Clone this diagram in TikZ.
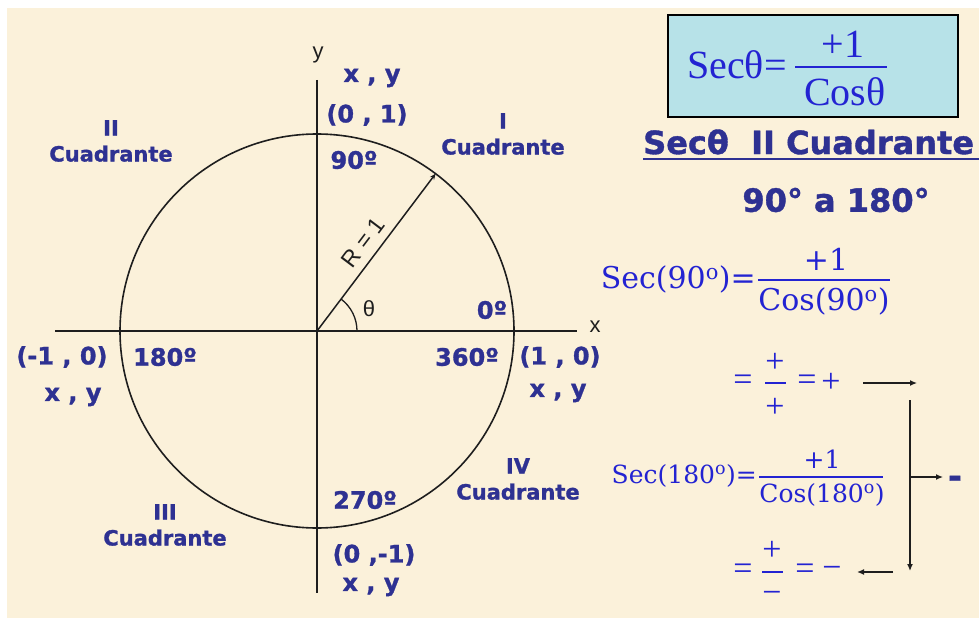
\documentclass[tikz,border=0pt]{standalone}
\usepackage{fontspec}
\setmainfont{Liberation Serif}
\newfontfamily\dvsans{DejaVu Sans}
\newfontfamily\heavy{DejaVu Sans Bold}[FakeBold=1.2]
\newfontfamily\dvserif{DejaVu Serif}
\newfontfamily\lserif{Liberation Serif}
\newfontfamily\lsans{Liberation Sans}
\usetikzlibrary{arrows.meta}
\definecolor{navy}{RGB}{46,49,146}
\definecolor{fblue}{RGB}{35,35,210}
\definecolor{cream}{RGB}{251,241,218}
\definecolor{boxcyan}{RGB}{183,226,232}
\definecolor{ink}{RGB}{30,30,30}
\tikzset{
  lbl/.style={text=navy, font=\heavy\fontsize{24}{26}\selectfont, inner sep=0pt},
  quad/.style={text=navy, font=\heavy\fontsize{21}{26}\selectfont, inner sep=0pt, align=center},
  big/.style={text=navy, font=\heavy\fontsize{32}{36}\selectfont, inner sep=0pt},
  axislbl/.style={text=ink, font=\lsans\fontsize{22}{24}\selectfont, inner sep=0pt},
  geo/.style={draw=ink, line width=1.6pt},
  boxeq/.style={text=fblue, font=\lserif\fontsize{40}{44}\selectfont, inner sep=0pt},
  eqa/.style={text=fblue, font=\dvserif\fontsize{30}{36}\selectfont, inner sep=0pt},
  eqb/.style={text=fblue, font=\dvserif\fontsize{25}{30}\selectfont, inner sep=0pt},
  sym/.style={text=fblue, font=\lserif\fontsize{34}{36}\selectfont, inner sep=0pt},
  fbar/.style={draw=fblue, line width=1.6pt},
  arr/.style={draw=ink, line width=1.3pt, -{Latex[length=7pt,width=6pt]}},
}
\begin{document}
\begin{tikzpicture}[x=1pt,y=1pt]
\useasboundingbox (0,0) rectangle (979,622);
\fill[white] (0,0) rectangle (979,622);
\fill[cream] (7,4) rectangle (979,614);

% ---- unit circle ----
\coordinate (O) at (317,291);
\coordinate (xl) at (55,291);
\coordinate (xr) at (577,291);
\coordinate (yt) at (317,542);
\coordinate (yb) at (317,29);
\coordinate (P) at (435.6,448.3);
\draw[geo] (xl) -- (xr);
\draw[geo] (yt) -- (yb);
\draw[geo] (O) circle (197);
\draw[draw=ink, line width=1.5pt, -{Stealth[length=6pt,width=5pt]}] (O) -- (P)
  node[pos=0.5, sloped, above=8pt, inner sep=0pt, text=ink, font=\lsans\fontsize{23}{25}\selectfont] (R) {R = 1};
\draw[draw=ink, line width=1.3pt] (357,291) arc (0:53:40);
\node[axislbl] (th) at (369,313) {θ};
\node[axislbl] (xlab) at (595,295) {x};
\node[axislbl] (ylab) at (318,567) {y};

% ---- labels ----
\node[lbl] (xyT) at (372,544) {x , y};
\node[lbl] (p01) at (367,507) {(0 , 1)};
\node[lbl] (d90) at (354,462) {90º};
\node[quad] (q2) at (111,481) {II\\Cuadrante};
\node[quad] (q1) at (503,488) {I\\Cuadrante};
\node[lbl] (d0) at (492,312) {0º};
\node[lbl] (pm10) at (62,265) {(-1 , 0)};
\node[lbl] (d180) at (165,265) {180º};
\node[lbl] (xyL) at (73,225) {x , y};
\node[lbl] (d360) at (467,265) {360º};
\node[lbl] (p10) at (560,265) {(1 , 0)};
\node[lbl] (xyR) at (558,229) {x , y};
\node[quad] (q4) at (518,143) {IV\\Cuadrante};
\node[lbl] (d270) at (365,122) {270º};
\node[quad] (q3) at (165,97) {III\\Cuadrante};
\node[lbl] (p0m1) at (374,67) {(0 ,-1)};
\node[lbl] (xyB) at (371,35) {x , y};

% ---- right side: definition box ----
\node[draw=black, line width=1.5pt, fill=boxcyan, minimum width=290pt, minimum height=102pt, inner sep=0pt] (box) at (813,556) {};
\node[boxeq, anchor=west] (secL) at (687,557) {Secθ=};
\coordinate (b0a) at (795,555);
\coordinate (b0b) at (887,555);
\draw[fbar] (b0a) -- (b0b);
\node[boxeq] (secN) at (843,578) {+1};
\node[boxeq] (secD) at (845,530) {Cosθ};

\node[big, anchor=west] (hd) at (643,480) {Secθ\ \ II Cuadrante};
\draw[navy, line width=1.6pt] ([yshift=-5pt]hd.base west) -- ([xshift=20pt,yshift=-5pt]hd.base east);
\node[big] (rng) at (836,422) {90° a 180°};

% ---- Sec(90) ----
\node[eqa, anchor=east] (e90L) at (756,343) {Sec(90\textsuperscript{o})=};
\coordinate (b1a) at (758,342);
\coordinate (b1b) at (890,342);
\draw[fbar] (b1a) -- (b1b);
\node[eqa] (e90N) at (826,363) {+1};
\node[eqa] (e90D) at (824,321) {Cos(90\textsuperscript{o})};

% ---- = +/+ = + ----
\node[sym] (r1e) at (743,239) {=};
\node[sym] (r1n) at (775,259) {+};
\coordinate (b2a) at (765,239);
\coordinate (b2b) at (786,239);
\draw[fbar] (b2a) -- (b2b);
\node[sym] (r1d) at (775,214) {+};
\node[sym] (r1e2) at (807,239) {=};
\node[sym] (r1p) at (831,239) {+};

% ---- Sec(180) ----
\node[eqb, anchor=east] (e180L) at (757,146) {Sec(180\textsuperscript{o})=};
\coordinate (b3a) at (759,145);
\coordinate (b3b) at (883,145);
\draw[fbar] (b3a) -- (b3b);
\node[eqb] (e180N) at (822,163) {+1};
\node[eqb] (e180D) at (822,127) {Cos(180\textsuperscript{o})};

% ---- = +/- = - ----
\node[sym] (r2e) at (743,50) {=};
\node[sym] (r2n) at (772,71) {+};
\coordinate (b4a) at (762,50);
\coordinate (b4b) at (783,50);
\draw[fbar] (b4a) -- (b4b);
\node[sym] (r2d) at (772,25) {−};
\node[sym] (r2e2) at (805,50) {=};
\node[sym] (r2m) at (832,50) {−};

\node[big, font=\heavy\fontsize{34}{36}\selectfont] (neg) at (955,140) {-};

\coordinate (a1s) at (863,239);
\coordinate (a1e) at (917,239);
\coordinate (vt) at (910,222);
\coordinate (vb) at (910,51);
\coordinate (vm) at (910,145);
\coordinate (a3e) at (943,145);
\coordinate (a4s) at (893,50);
\coordinate (a4e) at (857,50);
\draw[arr] (a1s) -- (a1e);
\draw[arr] (vt) -- (vb);
\draw[arr] (vm) -- (a3e);
\draw[arr] (a4s) -- (a4e);
\end{tikzpicture}
\end{document}
